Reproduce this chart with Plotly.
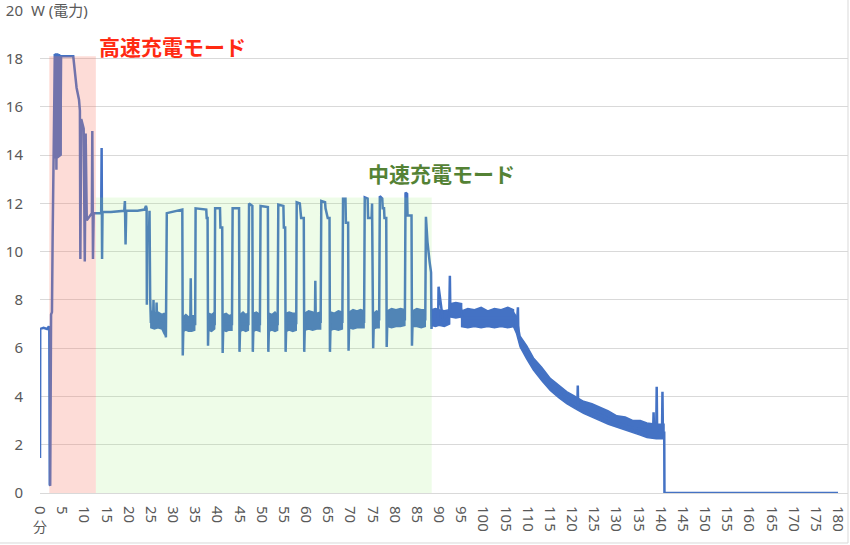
import plotly.graph_objects as go

# ---- main trace (minutes, watts) ----
TIME = [0.0, 0.05, 0.8, 1.6, 2.0, 2.1, 2.2, 2.3, 2.5, 2.7, 2.85, 3.1, 3.35,
        3.5, 3.6, 3.7, 3.8, 4.0, 4.3, 4.6, 4.75, 5.5, 7.5, 8.25, 8.8, 9.0,
        9.1, 9.3, 9.85, 10.1, 10.3, 10.55, 11.7, 11.8, 11.95, 12.1, 13.8, 13.9,
        14.0, 14.1, 16.0, 19.0, 19.15, 19.3, 19.45, 22.0, 23.6, 23.9, 24.05,
        24.1, 24.2, 24.6, 24.7, 24.85, 25.0, 25.5, 25.6, 25.7, 26.2, 26.3, 26.4,
        28.2, 28.4, 28.6, 32.1, 32.2, 32.35, 33.9, 34.0, 34.1, 35.0, 35.1,
        37.5, 37.6, 37.8, 37.9, 38.0, 39.4, 39.5, 40.6, 40.7, 41.1, 41.2, 41.35,
        43.3, 43.45, 44.9, 45.0, 45.15, 47.0, 47.15, 47.9, 48.0, 48.15, 49.6,
        49.75, 51.4, 51.5, 51.65, 53.6, 53.75, 54.9, 55.0, 55.3, 55.4, 55.55,
        57.8, 57.9, 58.6, 58.7, 58.9, 59.5, 59.6, 59.75, 62.0, 62.1, 62.2, 63.3,
        63.45, 64.3, 64.4, 64.9, 65.3, 65.4, 65.55, 68.2, 68.35, 68.9, 69.0,
        69.5, 69.6, 69.75, 73.1, 73.25, 73.9, 74.0, 74.8, 74.9, 75.0, 75.15,
        75.3, 76.5, 76.65, 77.2, 77.3, 77.6, 77.7, 78.1, 78.2, 78.35, 82.3,
        82.45, 82.8, 82.9, 83.8, 83.9, 84.05, 86.9, 87.05, 87.4, 87.9, 88.2,
        88.3, 88.4, 89.8, 89.9, 91.0, 92.3, 92.45, 92.55, 95.0, 95.2, 106.8,
        107.1, 107.5, 107.8, 107.9, 108.3, 111.3, 115.1, 118.8, 121.2, 121.3,
        121.4, 122.6, 126.3, 130.1, 133.8, 136.9, 138.3, 138.4, 138.5, 139.0,
        139.1, 139.2, 140.3, 140.4, 140.5, 140.8, 140.85, 180.0]
POWER = [1.45, 6.8, 6.85, 6.8, 6.9, 6.85, 0.35, 0.3, 7.4, 7.5, 10.6, 14.0, 18.2,
         14.0, 18.1, 13.4, 18.1, 14.0, 18.2, 14.0, 18.1, 18.1, 18.1, 16.8, 16.3, 15.85,
         9.7, 15.5, 15.1, 9.6, 14.9, 11.3, 11.6, 15.0, 9.7, 11.6, 11.6, 14.3,
         9.7, 11.65, 11.65, 11.7, 12.1, 10.3, 11.7, 11.7, 11.75, 11.9, 11.8,
         7.8, 10.8, 10.8, 11.7, 8.1, 7.1, 7.1, 8.0, 7.1, 7.1, 7.9, 7.1,
         7.0, 6.45, 11.6, 11.75, 5.7, 7.0, 7.0, 8.9, 7.0, 7.0, 11.8,
         11.75, 11.4, 11.4, 6.1, 7.0, 7.0, 11.8, 11.8, 11.0, 11.0, 5.8, 7.0,
         7.0, 11.8, 11.8, 5.85, 7.0, 7.0, 12.0, 11.9, 5.85, 7.0, 7.0,
         11.9, 11.85, 5.85, 7.0, 7.0, 11.95, 11.9, 11.0, 11.0, 5.85, 7.05,
         7.05, 12.05, 12.0, 11.8, 11.4, 11.4, 5.85, 7.1, 7.1, 8.8, 7.1, 7.1,
         12.1, 12.05, 11.8, 11.4, 11.4, 5.85, 7.1, 7.1, 12.2, 12.2, 11.2,
         11.2, 5.9, 7.1, 7.1, 12.25, 12.2, 11.4, 11.4, 12.0, 8.3, 6.0,
         7.2, 7.2, 12.3, 12.2, 11.8, 11.8, 11.4, 11.4, 6.05, 7.2, 7.2,
         12.45, 12.4, 11.5, 11.5, 6.1, 7.2, 7.2, 11.45, 10.4, 9.55, 9.15,
         6.8, 7.2, 7.2, 8.55, 7.0, 7.3, 9.0, 7.6, 7.6, 7.25, 7.25,
         7.3, 6.8, 7.7, 6.5, 6.25, 5.3, 4.45, 3.9, 3.6, 4.45,
         3.5, 3.5, 3.25, 2.9, 2.7, 2.6, 2.6, 3.35, 2.6, 2.6,
         4.4, 2.6, 2.55, 4.2, 2.5, 2.5, 0.0, 0.0]

# ---- noisy bands (thickness of the dense signal) ----
BAND_T = [[3.3, 4.0, 4.75],
          [25.0, 25.8, 26.6, 27.5, 28.0, 28.45],
          [32.3, 32.9, 33.5, 34.2, 34.9],
          [38.0, 38.7, 39.4],
          [41.3, 42.0, 42.6, 43.3],
          [45.1, 45.8, 46.4, 47.0],
          [48.1, 48.8, 49.6],
          [51.6, 52.3, 53.0, 53.6],
          [55.5, 56.2, 57.0, 57.8],
          [59.7, 60.6, 61.5, 62.4, 63.3],
          [65.5, 66.4, 67.3, 68.2],
          [69.7, 70.6, 71.5, 72.3, 73.1],
          [75.25, 75.9, 76.5],
          [78.3, 79.3, 80.3, 81.3, 82.3],
          [84.0, 85.0, 86.0, 86.9],
          [88.3, 89.2, 90.0, 91.2, 92.4],
          [92.5, 93.8, 95.1],
          [95.1, 96.5, 98.0, 99.5, 101.0, 102.5, 104.0, 105.5, 106.8],
          [106.8, 107.5, 108.3, 109.8, 111.3, 113.2, 115.1, 117.0, 118.8, 120.7,
           122.6, 124.5, 126.3, 128.2, 130.1, 132.0, 133.8, 135.4, 136.9, 139.0,
           140.75]]
BAND_LO = [[13.9, 13.9, 14.0],
           [6.85, 6.8, 6.85, 6.8, 6.6, 6.5],
           [6.7, 6.75, 6.7, 6.7, 6.75],
           [6.75, 6.7, 6.8],
           [6.75, 6.7, 6.75, 6.75],
           [6.7, 6.75, 6.7, 6.75],
           [6.7, 6.75, 6.7],
           [6.7, 6.75, 6.7, 6.75],
           [6.7, 6.75, 6.7, 6.75],
           [6.75, 6.8, 6.75, 6.8, 6.8],
           [6.75, 6.8, 6.75, 6.8],
           [6.85, 6.8, 6.85, 6.85, 6.85],
           [6.8, 6.85, 6.85],
           [6.9, 6.85, 6.9, 6.9, 6.95],
           [6.9, 6.9, 6.85, 6.9],
           [6.95, 6.9, 6.95, 6.9, 7.0],
           [7.3, 7.25, 7.3],
           [6.9, 6.85, 6.9, 6.85, 6.9, 6.85, 6.9, 6.85, 6.9],
           [6.9, 6.6, 6.05, 5.55, 5.1, 4.65, 4.25, 3.95, 3.7, 3.5, 3.3, 3.15, 3.0,
            2.85, 2.7, 2.6, 2.5, 2.4, 2.3, 2.25, 2.25]]
BAND_HI = [[18.2, 18.2, 18.1],
           [7.55, 7.45, 7.5, 7.4, 7.45, 7.4],
           [7.3, 7.4, 7.3, 7.35, 7.35],
           [7.45, 7.4, 7.5],
           [7.4, 7.45, 7.35, 7.4],
           [7.4, 7.5, 7.4, 7.45],
           [7.45, 7.5, 7.4],
           [7.45, 7.4, 7.5, 7.4],
           [7.45, 7.5, 7.45, 7.45],
           [7.45, 7.55, 7.5, 7.45, 7.5],
           [7.5, 7.45, 7.55, 7.5],
           [7.5, 7.6, 7.55, 7.6, 7.55],
           [7.45, 7.55, 7.5],
           [7.55, 7.65, 7.6, 7.65, 7.6],
           [7.55, 7.65, 7.6, 7.6],
           [7.6, 7.65, 7.6, 7.55, 7.6],
           [7.85, 7.9, 7.85],
           [7.55, 7.65, 7.6, 7.7, 7.55, 7.65, 7.6, 7.7, 7.6],
           [7.5, 7.3, 6.5, 6.1, 5.6, 5.2, 4.75, 4.45, 4.2, 4.0, 3.8, 3.7, 3.55,
            3.4, 3.2, 3.15, 3.0, 3.0, 2.9, 2.85, 2.85]]

X_TICKS = list(range(0, 181, 5))
Y_TICKS = [0, 2, 4, 6, 8, 10, 12, 14, 16, 18, 20]

FAST_ZONE = (2.1, 12.6, 18.1)     # start, end, top (W)
MID_ZONE = (12.6, 88.35, 12.25)

BLUE = "#4472C4"
GRAY = "#595959"
GRID = "#D9D9D9"
FONT = "Noto Sans, Noto Sans CJK JP, sans-serif"
JP_BOLD = "Noto Sans CJK JP"

bx, by = [], []
for t, lo, hi in zip(BAND_T, BAND_LO, BAND_HI):
    bx += t + t[::-1] + [t[0], None]
    by += hi + lo[::-1] + [hi[0], None]

fig = go.Figure()
fig.add_trace(go.Scatter(x=bx, y=by, mode="lines", fill="toself",
                         fillcolor=BLUE, line=dict(color=BLUE, width=1.5),
                         hoverinfo="skip", showlegend=False))
fig.add_trace(go.Scatter(x=TIME, y=POWER, mode="lines",
                         line=dict(color=BLUE, width=2.5), showlegend=False))

fig.add_shape(type="rect", x0=FAST_ZONE[0], x1=FAST_ZONE[1], y0=0, y1=FAST_ZONE[2],
              fillcolor="rgba(248,120,100,0.26)", line_width=0, layer="above")
fig.add_shape(type="rect", x0=MID_ZONE[0], x1=MID_ZONE[1], y0=0, y1=MID_ZONE[2],
              fillcolor="rgba(150,235,110,0.16)", line_width=0, layer="above")

# chart border (right and bottom)
fig.add_shape(type="line", xref="paper", yref="paper", x0=1.0, x1=1.0,
              y0=-0.1035, y1=1.03, line=dict(color=GRID, width=1))
fig.add_shape(type="line", xref="paper", yref="paper", x0=-0.06, x1=1.0,
              y0=-0.1035, y1=-0.1035, line=dict(color=GRID, width=1))

fig.add_annotation(x=29.8, y=18.53, text="<b>高速充電モード</b>", showarrow=False,
                   font=dict(family=JP_BOLD, size=21, color="#FF2A12"))
fig.add_annotation(x=90.6, y=13.28, text="<b>中速充電モード</b>", showarrow=False,
                   font=dict(family=JP_BOLD, size=21, color="#548235"))
fig.add_annotation(xref="paper", x=-0.0124, y=20, text="W (電力)", showarrow=False,
                   xanchor="left", yanchor="middle", bgcolor="white", borderpad=0,
                   font=dict(family=FONT, size=15, color=GRAY))
fig.add_annotation(x=0, xref="x", yref="paper", y=-0.069, text="分", showarrow=False,
                   xanchor="center", yanchor="middle",
                   font=dict(family=FONT, size=14, color=GRAY))

fig.update_layout(
    width=850, height=545,
    margin=dict(l=40, r=2, t=10, b=52, autoexpand=False),
    plot_bgcolor="white", paper_bgcolor="white",
    font=dict(family=FONT, size=15, color=GRAY),
    xaxis=dict(range=[0, 182.25], tickvals=X_TICKS, ticktext=[str(v) for v in X_TICKS],
               tickangle=90, showgrid=False, zeroline=False, showline=False,
               ticks="", ticklabelstandoff=12, fixedrange=True, automargin=False,
               ticklabeloverflow="allow"),
    yaxis=dict(range=[0, 20.02], tickvals=Y_TICKS, ticktext=[str(v) for v in Y_TICKS],
               showgrid=True, gridcolor=GRID, gridwidth=1, zeroline=True,
               zerolinecolor=GRID, zerolinewidth=1, showline=False, ticks="",
               ticklabelstandoff=16, fixedrange=True, automargin=False,
               ticklabeloverflow="allow"),
)

fig.write_html("out.html", config={"displayModeBar": False},
               post_script="document.body.style.margin='0';")
